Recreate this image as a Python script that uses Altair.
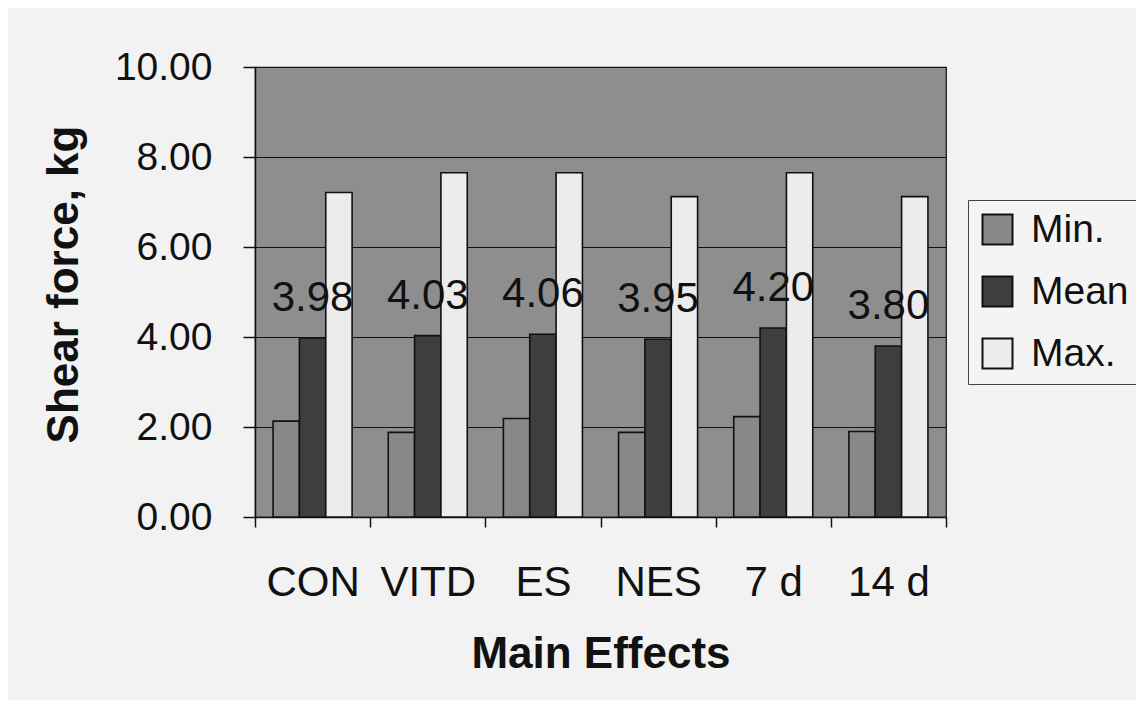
import altair as alt
import pandas as pd

categories = ["CON", "VITD", "ES", "NES", "7 d", "14 d"]
series = ["Min.", "Mean", "Max."]
min_vals = [2.13, 1.88, 2.19, 1.88, 2.23, 1.90]
mean_vals = [3.98, 4.03, 4.06, 3.95, 4.20, 3.80]
max_vals = [7.21, 7.65, 7.65, 7.12, 7.65, 7.12]
colors = ["#888888", "#3e3e3e", "#ececec"]

rows = []
for i, c in enumerate(categories):
    for s, vals in zip(series, [min_vals, mean_vals, max_vals]):
        rows.append({"cat": c, "series": s, "value": vals[i]})
df = pd.DataFrame(rows)
df_mean = pd.DataFrame({"cat": categories, "mean": mean_vals})

FONT = "Liberation Sans"

x = alt.X(
    "cat:N",
    sort=categories,
    scale=alt.Scale(paddingInner=0, paddingOuter=0),
    axis=alt.Axis(
        title="Main Effects",
        labelAngle=0,
        labelFontSize=42,
        labelFont=FONT,
        labelColor="#111111",
        labelPadding=35,
        tickBand="extent",
        tickSize=10,
        tickColor="#111111",
        tickWidth=1.5,
        domainColor="#111111",
        domainWidth=1.5,
        titleFontSize=44,
        titleFont=FONT,
        titleFontWeight="bold",
        titleColor="#111111",
        titlePadding=29,
        grid=False,
    ),
)

bars = alt.Chart(df).mark_bar(stroke="#111111", strokeWidth=1.6).encode(
    x=x,
    xOffset=alt.XOffset("series:N", sort=series,
                        scale=alt.Scale(paddingInner=0, paddingOuter=0.686)),
    y=alt.Y(
        "value:Q",
        scale=alt.Scale(domain=[0, 10], nice=False),
        axis=alt.Axis(
            title="Shear force, kg",
            values=[0, 2, 4, 6, 8, 10],
            format=".2f",
            labelFontSize=39,
            labelFont=FONT,
            labelColor="#111111",
            labelPadding=31,
            tickSize=12,
            tickColor="#111111",
            tickWidth=1.5,
            domainColor="#111111",
            domainWidth=1.5,
            gridColor="#111111",
            gridWidth=1.2,
            titleFontSize=44,
            titleFont=FONT,
            titleFontWeight="bold",
            titleColor="#111111",
            titlePadding=28,
            titleY=217,
        ),
    ),
    color=alt.Color(
        "series:N",
        sort=series,
        scale=alt.Scale(domain=series, range=colors),
        legend=alt.Legend(
            title=None,
            orient="none",
            legendX=713,
            legendY=133,
            symbolType="square",
            symbolSize=900,
            symbolStrokeColor="#111111",
            symbolStrokeWidth=2,
            symbolOpacity=1,
            labelFontSize=39,
            labelFont=FONT,
            labelColor="#111111",
            labelOffset=14,
            rowPadding=22,
            padding=10,
            strokeColor="#444444",
            fillColor="#f4f4f4",
        ),
    ),
)

labels = alt.Chart(df_mean).mark_text(
    fontSize=42, font=FONT, color="#111111", dy=-27, baseline="alphabetic", align="center"
).encode(
    x=alt.X("cat:N", sort=categories),
    y=alt.Y("mean:Q"),
    text=alt.Text("mean:Q", format=".2f"),
)

chart = (
    alt.layer(bars, labels)
    .properties(
        width=691,
        height=450,
        autosize=alt.AutoSizeParams(type="none"),
        padding={"left": 247, "top": 59, "right": 190, "bottom": 183},
        background="#f2f2f2",
    )
    .configure_view(fill="#8e8e8e", stroke="#111111", strokeWidth=1.2)
)

chart.save("out.html", embed_options={"renderer": "svg", "actions": False})
